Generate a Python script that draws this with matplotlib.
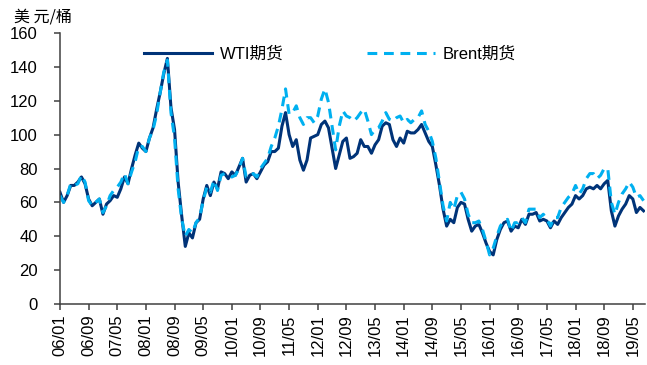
import numpy as np
import pandas as pd
import matplotlib
matplotlib.use("Agg")
import matplotlib.pyplot as plt

plt.rcParams['font.family'] = ['Liberation Sans', 'Noto Sans CJK SC', 'DejaVu Sans']

# monthly points, 2006-01 .. 2019-08
months = pd.period_range('2006-01', '2019-08', freq='M')

wti = [66, 60, 64, 70, 70, 72, 75, 71, 62, 58, 60, 62,
       53, 59, 61, 64, 63, 68, 75, 71, 80, 88, 95, 92,
       90, 98, 104, 115, 125, 136, 145, 116, 103, 72, 52, 34,
       42, 39, 48, 50, 62, 70, 64, 72, 68, 78, 77, 74,
       78, 76, 81, 86, 72, 76, 77, 74, 78, 82, 84, 90,
       90, 92, 105, 113, 100, 93, 97, 85, 79, 85, 98, 99,
       100, 106, 108, 104, 92, 80, 88, 96, 98, 86, 87, 89,
       97, 93, 93, 89, 94, 97, 105, 107, 106, 97, 93, 98,
       95, 102, 101, 101, 103, 106, 101, 96, 93, 82, 70, 56,
       46, 50, 48, 57, 60, 59, 50, 43, 46, 47, 42, 36,
       31, 29, 38, 44, 48, 49, 43, 46, 45, 50, 47, 53,
       53, 54, 49, 50, 49, 45, 49, 47, 51, 54, 57, 59,
       64, 62, 64, 68, 69, 68, 70, 68, 71, 73, 55, 46,
       52, 56, 59, 64, 62, 54, 57, 55]

brent = [64, 60, 64, 71, 70, 71, 76, 72, 61, 58, 60, 62,
         54, 58, 64, 67, 69, 72, 77, 71, 78, 84, 93, 93,
         90, 98, 103, 112, 125, 137, 144, 113, 98, 68, 50, 40,
         44, 42, 48, 51, 61, 69, 66, 73, 67, 76, 77, 76,
         75, 76, 80, 86, 75, 75, 77, 75, 80, 83, 86, 93,
         98, 105, 115, 127, 112, 113, 117, 110, 106, 110, 110, 107,
         111, 121, 127, 119, 105, 91, 105, 114, 111, 110, 108, 110,
         113, 115, 108, 100, 103, 104, 108, 113, 109, 108, 110, 111,
         107, 109, 107, 109, 110, 114, 106, 102, 96, 86, 72, 58,
         49, 60, 56, 64, 66, 62, 53, 48, 48, 49, 44, 37,
         29, 33, 40, 46, 49, 50, 43, 48, 48, 51, 48, 56,
         56, 56, 51, 53, 50, 46, 51, 51, 57, 60, 63, 65,
         70, 65, 68, 74, 77, 77, 74, 76, 80, 80, 60, 53,
         60, 65, 68, 72, 69, 63, 64, 61]

x = np.arange(len(months))
tick_pos = x[::8]
tick_labels = [m.strftime('%y/%m') for m in months[::8]]

fig = plt.figure(figsize=(6.47, 3.65), dpi=100)
ax = fig.add_axes([0.0927, 0.1671, 0.9042, 0.7425])

ax.plot(x, wti, color='#003378', linewidth=2.2, label='WTI期货')
ax.plot(x, brent, color='#00B0F0', linewidth=2.2, dashes=(3.2, 2.2), label='Brent期货')

ax.set_xlim(0, 163.4)
ax.set_ylim(0, 160)
ax.set_yticks(range(0, 161, 20))
ax.set_xticks(tick_pos)
ax.set_xticklabels(tick_labels, rotation=90)

for s in ['top', 'right']:
    ax.spines[s].set_visible(False)
for s in ['left', 'bottom']:
    ax.spines[s].set_color('#404040')
    ax.spines[s].set_linewidth(1.1)
ax.tick_params(axis='y', direction='out', length=4, width=1.1, color='#404040', labelsize=12, pad=12)
ax.tick_params(axis='x', direction='out', length=4.5, width=1.1, color='#404040', labelsize=12, pad=3)

ax.legend(loc='center left', bbox_to_anchor=(0.1436, 0.9225), ncol=2, frameon=False,
          fontsize=12, handlelength=4.1, handletextpad=0.45, columnspacing=5.0,
          borderpad=0, borderaxespad=0)

fig.text(0.0216, 0.953, '美 元/桶', fontsize=11.5, family=['Noto Sans CJK SC'], va='center')

fig.savefig('out.png', dpi=100)
